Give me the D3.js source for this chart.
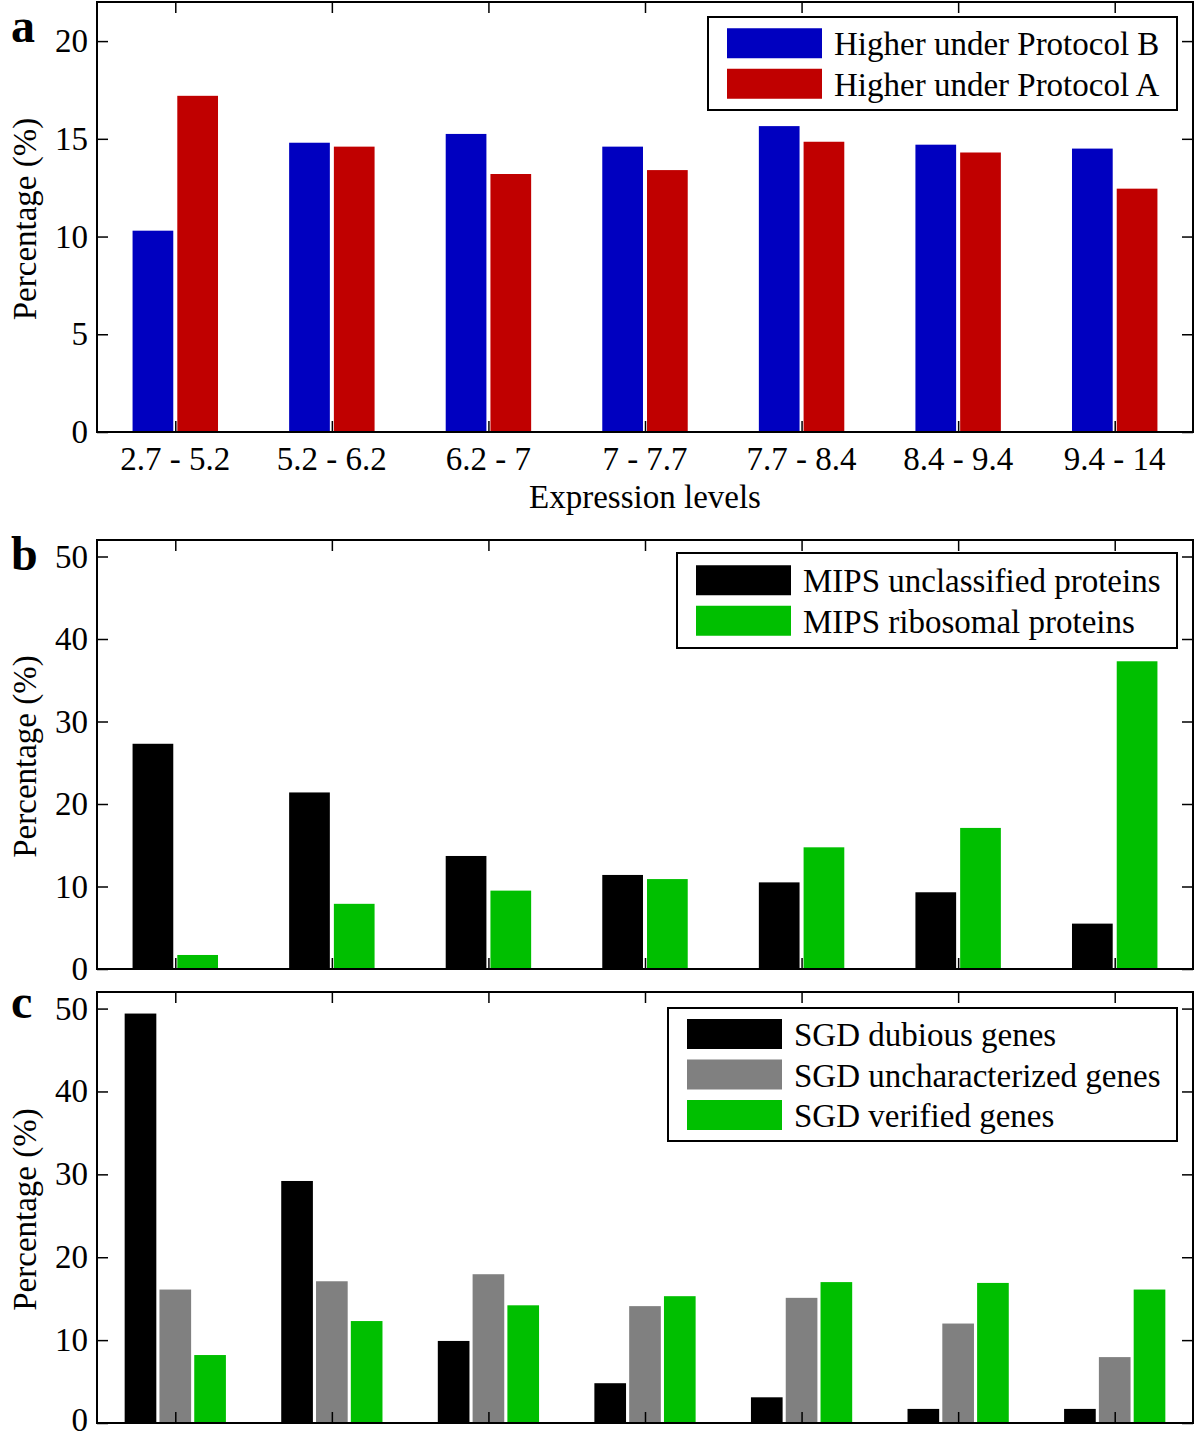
<!DOCTYPE html>
<html>
<head>
<meta charset="UTF-8">
<title>Expression level bars</title>
<script src="https://cdn.jsdelivr.net/npm/d3@7/dist/d3.min.js"></script>
<style>
  body { margin: 0; background: #fff; }
</style>
</head>
<body>
<svg id="chart" width="1200" height="1439" font-family="Liberation Serif, Tinos, Times New Roman, Times, serif"></svg>
<script>
// categories (expression level bins)
var categories = ["2.7 - 5.2", "5.2 - 6.2", "6.2 - 7", "7 - 7.7", "7.7 - 8.4", "8.4 - 9.4", "9.4 - 14"];

// panel a
var protocolB = [10.3, 14.8, 15.25, 14.6, 15.65, 14.7, 14.5];
var protocolA = [17.2, 14.6, 13.2, 13.4, 14.85, 14.3, 12.45];
// panel b
var mipsUnclassified = [27.3, 21.4, 13.7, 11.4, 10.5, 9.3, 5.5];
var mipsRibosomal = [1.7, 7.9, 9.5, 10.9, 14.75, 17.1, 37.3];
// panel c
var sgdDubious = [49.4, 29.2, 9.9, 4.8, 3.1, 1.7, 1.7];
var sgdUncharacterized = [16.1, 17.1, 17.95, 14.1, 15.1, 12.0, 7.95];
var sgdVerified = [8.2, 12.3, 14.2, 15.3, 17.0, 16.9, 16.1];

var yTicksA = [0, 5, 10, 15, 20];
var yTicksBC = [0, 10, 20, 30, 40, 50];

var svg = d3.select("#chart");
var left = 97, right = 1193;
var fs = 33;

var panels = [
  {
    letter: "a", top: 2, bottom: 432, ymax: 22, ticks: yTicksA, xlabels: true, letterY: 42,
    series: [
      {name: "Higher under Protocol B", values: protocolB, color: "#0000c0"},
      {name: "Higher under Protocol A", values: protocolA, color: "#c00000"}
    ],
    legend: {x: 708, y: 17, w: 469, h: 93}
  },
  {
    letter: "b", top: 540, bottom: 969, ymax: 52, ticks: yTicksBC, xlabels: false, letterY: 570,
    series: [
      {name: "MIPS unclassified proteins", values: mipsUnclassified, color: "#000000"},
      {name: "MIPS ribosomal proteins", values: mipsRibosomal, color: "#00bf00"}
    ],
    legend: {x: 677, y: 553, w: 500, h: 95}
  },
  {
    letter: "c", top: 992, bottom: 1423, ymax: 52, ticks: yTicksBC, xlabels: false, letterY: 1018,
    series: [
      {name: "SGD dubious genes", values: sgdDubious, color: "#000000"},
      {name: "SGD uncharacterized genes", values: sgdUncharacterized, color: "#808080"},
      {name: "SGD verified genes", values: sgdVerified, color: "#00bf00"}
    ],
    legend: {x: 668, y: 1008, w: 509, h: 133}
  }
];

var x = d3.scaleLinear().domain([0.5, categories.length + 0.5]).range([left, right]);
var step = x(2) - x(1);

panels.forEach(function (p) {
  var g = svg.append("g");
  var y = d3.scaleLinear().domain([0, p.ymax]).range([p.bottom, p.top]);
  var n = p.series.length;
  var gw = Math.min(0.8, n / (n + 1.5)) * step;
  var x1 = d3.scaleBand().domain(d3.range(n)).range([-gw / 2, gw / 2])
      .paddingInner(0.09).paddingOuter(0.045);

  // bars
  p.series.forEach(function (s, si) {
    g.selectAll(null)
        .data(s.values)
        .enter().append("rect")
        .attr("x", function (d, i) { return x(i + 1) + x1(si); })
        .attr("y", function (d) { return y(d); })
        .attr("width", x1.bandwidth())
        .attr("height", function (d) { return y(0) - y(d); })
        .attr("fill", s.color);
  });

  // axes (MATLAB-like box with inward ticks)
  var idx = d3.range(1, categories.length + 1);
  g.append("g").attr("transform", "translate(0," + p.bottom + ")")
      .call(d3.axisTop(x).tickValues(idx).tickSize(11).tickFormat(""));
  g.append("g").attr("transform", "translate(0," + p.top + ")")
      .call(d3.axisBottom(x).tickValues(idx).tickSize(11).tickFormat(""));
  g.append("g").attr("transform", "translate(" + left + ",0)")
      .call(d3.axisRight(y).tickValues(p.ticks).tickSize(11).tickFormat(""));
  g.append("g").attr("transform", "translate(" + right + ",0)")
      .call(d3.axisLeft(y).tickValues(p.ticks).tickSize(11).tickFormat(""));
  g.selectAll(".domain").remove();
  g.selectAll(".tick line").attr("stroke", "#000").attr("stroke-width", 1.5);

  g.append("rect")
      .attr("x", left).attr("y", p.top)
      .attr("width", right - left).attr("height", p.bottom - p.top)
      .attr("fill", "none").attr("stroke", "#000").attr("stroke-width", 2);

  // y tick labels (the bottom one of the last panel is kept inside the page)
  g.selectAll(null).data(p.ticks).enter().append("text")
      .attr("x", 88).attr("y", function (d) { return Math.min(y(d) + 11, 1431); })
      .attr("text-anchor", "end").attr("font-size", fs)
      .text(function (d) { return d; });

  // y label
  g.append("text")
      .attr("transform", "translate(36," + ((p.top + p.bottom) / 2 + 2) + ") rotate(-90)")
      .attr("text-anchor", "middle").attr("font-size", fs)
      .text("Percentage (%)");

  // panel letter
  g.append("text")
      .attr("x", 11).attr("y", p.letterY)
      .attr("font-size", 48).attr("font-weight", "bold")
      .text(p.letter);

  if (p.xlabels) {
    g.selectAll(null).data(categories).enter().append("text")
        .attr("x", function (d, i) { return x(i + 1); })
        .attr("y", p.bottom + 38)
        .attr("text-anchor", "middle").attr("font-size", fs)
        .text(function (d) { return d; });
    g.append("text")
        .attr("x", (left + right) / 2).attr("y", p.bottom + 76)
        .attr("text-anchor", "middle").attr("font-size", fs)
        .text("Expression levels");
  }

  // legend
  var L = p.legend;
  var lg = g.append("g");
  lg.append("rect").attr("x", L.x).attr("y", L.y).attr("width", L.w).attr("height", L.h)
      .attr("fill", "#fff").attr("stroke", "#000").attr("stroke-width", 2);
  var rowH = 40.5;
  var row0 = L.y + (L.h - rowH * n) / 2 + rowH / 2;
  p.series.forEach(function (s, si) {
    var cy = row0 + si * rowH;
    lg.append("rect").attr("x", L.x + 19).attr("y", cy - 15).attr("width", 95).attr("height", 30)
        .attr("fill", s.color);
    lg.append("text").attr("x", L.x + 126).attr("y", cy + 12)
        .attr("font-size", fs).text(s.name);
  });
});
</script>
</body>
</html>
